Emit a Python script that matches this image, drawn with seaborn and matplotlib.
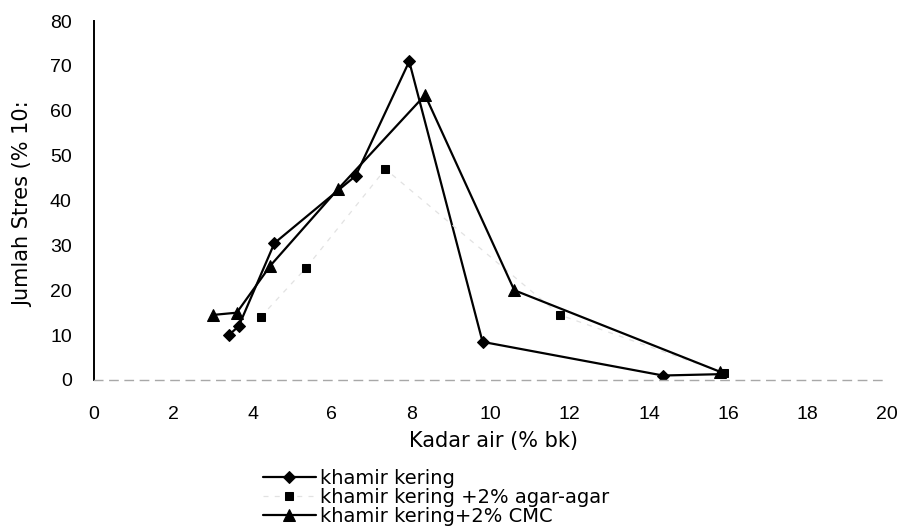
import matplotlib
matplotlib.use("Agg")
import matplotlib.pyplot as plt
import seaborn as sns
import pandas as pd

# --- data ---
x_kering = [3.4, 3.65, 4.55, 6.6, 7.95, 9.8, 14.35, 15.8]
y_kering = [10, 12, 30.5, 45.5, 71, 8.5, 1.0, 1.3]

x_agar = [4.2, 5.35, 7.35, 11.75, 15.9]
y_agar = [14, 25, 47, 14.5, 1.5]

x_cmc = [3.0, 3.6, 4.45, 6.15, 8.35, 10.6, 15.8]
y_cmc = [14.5, 15, 25.5, 42.5, 63.5, 20, 1.8]

labels = ["khamir kering", "khamir kering +2% agar-agar", "khamir kering+2% CMC"]
x_ticks = [0, 2, 4, 6, 8, 10, 12, 14, 16, 18, 20]
y_ticks = [0, 10, 20, 30, 40, 50, 60, 70, 80]

sns.set_theme(style="white")
plt.rcParams["font.family"] = ["DejaVu Sans"]
plt.rcParams["text.color"] = "black"
plt.rcParams["axes.labelcolor"] = "black"
plt.rcParams["xtick.color"] = "black"
plt.rcParams["ytick.color"] = "black"

fig = plt.figure(figsize=(8.99, 5.28), dpi=100)
ax = fig.add_axes([94 / 899, 1 - 380 / 528, 793 / 899, 359 / 528])

df_k = pd.DataFrame({"x": x_kering, "y": y_kering})
df_a = pd.DataFrame({"x": x_agar, "y": y_agar})
df_c = pd.DataFrame({"x": x_cmc, "y": y_cmc})

sns.lineplot(data=df_k, x="x", y="y", sort=False, ax=ax, color="black",
             linewidth=1.6, marker="D", markersize=6.5, markeredgecolor="black",
             markevery=list(range(len(x_kering) - 1)), label=labels[0])
sns.lineplot(data=df_a, x="x", y="y", sort=False, ax=ax, color="#e2e2e2",
             linewidth=0.9, linestyle=(0, (4, 5)), marker="s", markersize=6,
             markerfacecolor="black", markeredgecolor="black", label=labels[1])
sns.lineplot(data=df_c, x="x", y="y", sort=False, ax=ax, color="black",
             linewidth=1.6, marker="^", markersize=9, markeredgecolor="black",
             label=labels[2])

ax.set_xlim(0, 20)
ax.set_ylim(0, 80)
ax.set_xticks(x_ticks)
ax.set_yticks(y_ticks)
ax.set_xticklabels([str(v) for v in x_ticks], fontfamily="Liberation Sans", fontsize=14)
ax.set_yticklabels([str(v) for v in y_ticks], fontfamily="Liberation Sans", fontsize=14)
ax.tick_params(axis="x", length=0, pad=19, colors="black")
ax.tick_params(axis="y", length=0, pad=16, colors="black")

for s in ["top", "right"]:
    ax.spines[s].set_visible(False)
ax.spines["left"].set_color("black")
ax.spines["left"].set_linewidth(1.4)
ax.spines["bottom"].set_color("#a8a8a8")
ax.spines["bottom"].set_linewidth(1.0)
ax.spines["bottom"].set_linestyle((0, (6, 5)))
ax.grid(False)

ax.set_xlabel("Kadar air (% bk)", fontsize=15, color="black")
ax.xaxis.label.set_va("center")
ax.xaxis.set_label_coords(0.504, -0.17)
ax.set_ylabel("Jumlah Stres (% 10:", fontsize=15, color="black")
ax.yaxis.label.set_va("center")
ax.yaxis.set_label_coords(-0.0895, 0.489)

handles, labs = ax.get_legend_handles_labels()
ax.get_legend().remove()
fig.legend(handles, labs, loc="upper left", bbox_to_anchor=(263 / 899, 1 - 469 / 528),
           frameon=False, fontsize=14, handlelength=2.7, handletextpad=0.25,
           labelspacing=0.0, borderpad=0, borderaxespad=0, labelcolor="black")

fig.savefig("out.png", dpi=100, facecolor="white")
